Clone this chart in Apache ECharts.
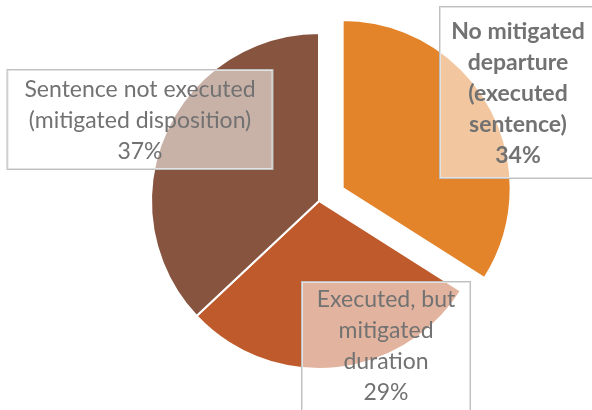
<!DOCTYPE html>
<html>
<head>
<meta charset="utf-8">
<script src="https://cdn.jsdelivr.net/npm/echarts@6/dist/echarts.min.js"></script>
<style>
  html, body { margin: 0; padding: 0; background: #fff; }
  #chart { width: 592px; height: 410px; }
</style>
</head>
<body>
<div id="chart"></div>
<script>
// data
var categories = ['No mitigated\ndeparture\n(executed\nsentence)', 'Executed, but\nmitigated\nduration', 'Sentence not executed\n(mitigated disposition)'];
var shares = [34, 29, 37];
var exploded = [true, false, false];

var colors = ['#E3832A', '#BE5A2B', '#86543F'];

// label box placement (x centre, top y), per slice
var labelBoxes = [
    {x: 518, y: 7, width: 138, padding: [9, 9, 7, 9], bold: true},
    {x: 386, y: 282, width: 140, padding: [2, 14, 20, 14], bold: false},
    {x: 140, y: 70, width: 237, padding: [4, 14, 2, 14], bold: false}
];

var pieCenter = [319, 201];
var pieRadius = 168;
var explodeBy = 27;

var total = shares.reduce(function (a, b) { return a + b; }, 0);

// centre of the pulled-out copy, moved along the slice's middle angle
function explodedCenter(idx) {
    var before = 0;
    for (var i = 0; i < idx; i++) before += shares[i];
    var mid = (before + shares[idx] / 2) / total * Math.PI * 2;
    return [pieCenter[0] + Math.sin(mid) * explodeBy, pieCenter[1] - Math.cos(mid) * explodeBy];
}

function buildData(showPulled) {
    return categories.map(function (name, i) {
        var box = labelBoxes[i];
        var visible = exploded[i] === showPulled;
        return {
            name: name,
            value: shares[i],
            itemStyle: visible ? { color: colors[i] } : { color: 'rgba(0,0,0,0)', borderWidth: 0 },
            label: {
                show: visible,
                width: box.width,
                padding: box.padding,
                fontWeight: box.bold ? 'bold' : 'normal'
            }
        };
    });
}

function pieSeries(center, showPulled) {
    return {
        type: 'pie',
        center: center,
        radius: pieRadius,
        startAngle: 90,
        clockwise: true,
        silent: true,
        emphasis: { disabled: true },
        itemStyle: { borderColor: '#fff', borderWidth: 2 },
        labelLine: { show: false },
        label: {
            show: true,
            position: 'inside',
            fontFamily: 'Lato',
            fontSize: 23,
            lineHeight: 31,
            color: '#727272',
            align: 'center',
            overflow: 'none',
            backgroundColor: 'rgba(255,255,255,0.55)',
            borderColor: '#BFBFBF',
            borderWidth: 1,
            formatter: function (p) {
                return p.name + '\n' + Math.round(p.percent) + '%';
            }
        },
        labelLayout: function (p) {
            var box = labelBoxes[p.dataIndex];
            return { x: box.x, y: box.y, align: 'center', verticalAlign: 'top' };
        },
        data: buildData(showPulled)
    };
}

var chart = echarts.init(document.getElementById('chart'));
chart.setOption({
    backgroundColor: '#fff',
    animation: false,
    series: [
        pieSeries(pieCenter, false),
        pieSeries(explodedCenter(0), true)
    ]
});
</script>
</body>
</html>
